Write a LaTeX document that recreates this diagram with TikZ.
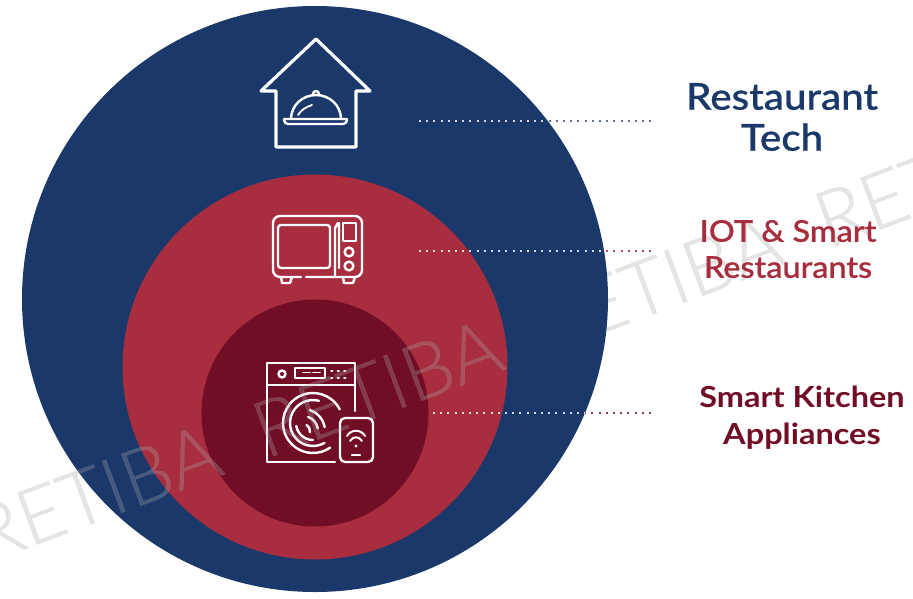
\documentclass[tikz,border=0pt]{standalone}
\usepackage{fontspec}
\setmainfont{Lato}
\newfontfamily\lblA[FakeStretch=1.09,FakeBold=0.7]{Lato Medium}
\newfontfamily\lblB[FakeStretch=1.08,FakeBold=0.7]{Lato Medium}
\newfontfamily\lblC[FakeStretch=1.12]{Lato Bold}
\newfontfamily\wmfont[FakeBold=0.4]{Lato Light}
\definecolor{navy}{RGB}{27,56,107}
\definecolor{midred}{RGB}{168,45,62}
\definecolor{deepred}{RGB}{113,13,36}
\definecolor{wm}{RGB}{170,170,170}
\definecolor{dotlight}{RGB}{215,215,225}
\tikzset{
  disc/.style={circle,inner sep=0pt,minimum size=#1},
  lbl/.style={align=center,inner sep=0pt},
  icon/.style={draw=white,line width=3.2pt,line cap=round,line join=round,fill=none},
  thin icon/.style={icon,line width=2.4pt},
  leader/.style={line width=2.2pt,dash pattern=on 2pt off 5.2pt},
  wmark/.style={text=wm,opacity=.3,rotate=20.5,font=\fontsize{78}{78}\selectfont\wmfont,inner sep=0pt}
}
\begin{document}
\begin{tikzpicture}[x=1pt,y=-1pt]
\useasboundingbox (0,0) rectangle (913,598);
\fill[white] (0,0) rectangle (913,598);
% watermark behind the outer disc
\node[wmark] (wc) at (658,283) {RETIBA};
\node[wmark] (wd) at (939,178) {RETIBA};
\node[disc=586pt,fill=navy] (outer) at (315,299) {};
\node[disc=385pt,fill=midred] (middle) at (315,367) {};
\node[disc=227pt,fill=deepred] (inner) at (315,413) {};
% house
\draw[icon] (276,147) -- (356,147) -- (356,91) -- (370,91) -- (316,39) -- (261,91) -- (276,91) -- cycle;
\draw[thin icon] (291,119) arc[start angle=180,end angle=360,x radius=25,y radius=24];
\draw[thin icon] (284,119) -- (347,119) -- (347,120) arc[start angle=0,end angle=90,radius=4] -- (288,124) arc[start angle=90,end angle=180,radius=4] -- cycle;
\draw[thin icon] (313,94) arc[start angle=180,end angle=360,radius=3];
\draw[thin icon,line width=1.8pt] (298,115) .. controls (301,110) and (306,107) .. (312,105);
% microwave
\draw[thin icon] (301,277) -- (280,277) arc[start angle=90,end angle=180,radius=7] -- (273,223) arc[start angle=180,end angle=270,radius=7] -- (355,216) arc[start angle=270,end angle=360,radius=7] -- (362,270) arc[start angle=0,end angle=90,radius=7] -- (306,277);
\draw[thin icon,rounded corners=3pt] (278,225) rectangle (330,268);
\draw[thin icon] (335,277) -- (335,228) -- (338,223) -- (339,223) -- (339,268);
\draw[thin icon] (343,223) rectangle (356,241);
\draw[thin icon] (349,252) circle (4.4) (349,266) circle (4.4);
\draw[thin icon] (281,277) -- (282,283) -- (290,283) -- (292,277) (343,277) -- (344,283) -- (353,283) -- (355,277);
% washer
\coordinate (drum) at (313,423);
\coordinate (core) at (303,431);
\draw[thin icon] (335,462) -- (267,462) -- (267,363) -- (355,363) -- (355,411);
\draw[thin icon] (267,385) -- (355,385);
\draw[thin icon] (282,374) circle (3.5);
\draw[thin icon,line width=1.8pt] (295,368) -- (295,378) -- (325,378) -- (325,368) -- cycle;
\draw[thin icon,line width=1.6pt,dash pattern=on 7pt off 3pt] (303,372.5) -- (323,372.5);
\draw[thin icon,line width=2pt,dash pattern=on 1.5pt off 5pt] (331,371) -- (350,371) (331,378) -- (350,378);
\draw[thin icon] ([shift=(-27:30)]drum) arc[start angle=-27,end angle=-305,radius=30];
\draw[thin icon] ([shift=(-75:23)]drum) arc[start angle=-75,end angle=-300,radius=23];
\draw[thin icon] ([shift=(-190:17)]drum) arc[start angle=-190,end angle=-270,radius=17];
\draw[thin icon] ([shift=(-72:22)]core) arc[start angle=-72,end angle=-10,radius=22];
\draw[thin icon] ([shift=(-70:15)]core) arc[start angle=-70,end angle=-10,radius=15];
\draw[thin icon] ([shift=(-60:7)]core) arc[start angle=-60,end angle=10,radius=7];
\draw[thin icon] (345,418) -- (368,418) arc[start angle=270,end angle=360,radius=5] -- (373,457) arc[start angle=0,end angle=90,radius=5] -- (345,462) arc[start angle=90,end angle=180,radius=5] -- (340,423) arc[start angle=180,end angle=270,radius=5] -- cycle;
\draw[thin icon,line width=2pt] (347,436) .. controls (351,429) and (361,429) .. (365,436);
\draw[thin icon,line width=2pt] (350,441) .. controls (353,436) and (359,436) .. (362,441);
\fill[white] (356,446) circle (1.6);
\draw[thin icon] (352,455) -- (360,455);
% watermark over the discs
\node[wmark] (wa) at (96,493) {RETIBA};
\node[wmark] (wb) at (377,388) {RETIBA};
% leaders
\coordinate (t1) at (653,121);
\coordinate (t2) at (653,251);
\coordinate (t3) at (653,413);
\coordinate (s1) at (419,121);
\coordinate (s2) at (419,251);
\coordinate (s3) at (433,413);
\draw[leader,navy!70!white] (s1) -- (t1);
\draw[leader,midred!85!white] (s2) -- (t2);
\draw[leader,deepred!80!white] (s3) -- (t3);
\begin{scope}
\clip (315,299) circle (293);
\draw[leader,dotlight] (s1) -- (t1);
\draw[leader,dotlight] (s2) -- (t2);
\draw[leader,dotlight] (s3) -- (t3);
\end{scope}
% labels
\node[lbl,text=navy,font=\fontsize{37}{41}\selectfont\lblA] (restaurant) at (782,117) {Restaurant\\Tech};
\node[lbl,text=midred,font=\fontsize{30}{36}\selectfont\lblB] (iot) at (788,249) {IOT \& Smart\\Restaurants};
\node[lbl,text=deepred,font=\fontsize{29}{37}\selectfont\lblC] (kitchen) at (802,418) {Smart Kitchen\\Appliances};
\end{tikzpicture}
\end{document}
